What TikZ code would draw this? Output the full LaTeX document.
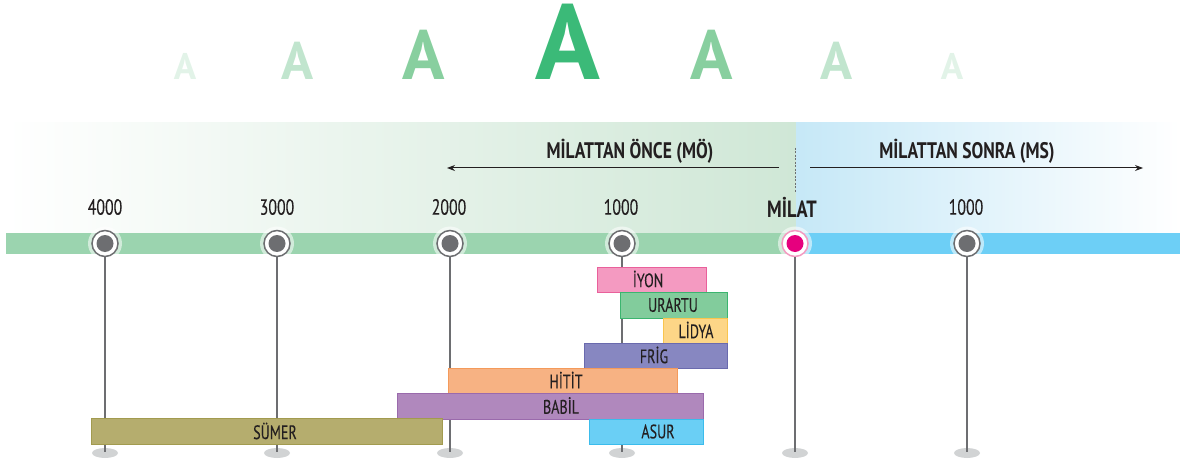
\documentclass[tikz,border=0pt]{standalone}
\usepackage{fontspec}
\setmainfont{PT Sans}[FakeStretch=0.72]
\newfontfamily\rfont{PT Sans}[FakeStretch=0.72,FakeBold=0.15]
\newfontfamily\bfont{PT Sans}[FakeStretch=0.78]
\newfontfamily\wideA{PT Sans}
\usetikzlibrary{arrows.meta}
\definecolor{txt}{HTML}{231F20}
\definecolor{bandG}{HTML}{CFE7D6}
\definecolor{bandB}{HTML}{C6E8F7}
\definecolor{barG}{HTML}{9BD4AF}
\definecolor{barB}{HTML}{6DCFF6}
\definecolor{tickgray}{HTML}{6D6E71}
\definecolor{shadowgray}{HTML}{D1D3D4}
\definecolor{milatPink}{HTML}{E6007E}
\definecolor{milatRing}{HTML}{F49AC1}
\definecolor{aA}{HTML}{3BBA78}
\definecolor{aB}{HTML}{88CF9F}
\definecolor{aC}{HTML}{C1E5CE}
\definecolor{aD}{HTML}{E2F3E8}
\definecolor{iyonF}{HTML}{F49AC1}\definecolor{iyonD}{HTML}{E9609B}
\definecolor{urarF}{HTML}{82CC9C}\definecolor{urarD}{HTML}{3BB56F}
\definecolor{lidF}{HTML}{FDD687}\definecolor{lidD}{HTML}{F9C54E}
\definecolor{frigF}{HTML}{8787C1}\definecolor{frigD}{HTML}{6A6AAE}
\definecolor{hitF}{HTML}{F7B283}\definecolor{hitD}{HTML}{F49A5B}
\definecolor{babF}{HTML}{B088BD}\definecolor{babD}{HTML}{9A6AAC}
\definecolor{sumF}{HTML}{B5AD6E}\definecolor{sumD}{HTML}{A29B4F}
\definecolor{asurF}{HTML}{6ACFF5}\definecolor{asurD}{HTML}{3BBCEC}
\begin{document}
\begin{tikzpicture}[x=1pt,y=-1pt,
  bigA/.style={anchor=base,inner sep=0pt,font=\wideA\bfseries\fontsize{#1}{#1}\selectfont},
  year/.style={text=txt,inner sep=0pt,font=\rfont\fontsize{22}{22}\selectfont},
  head/.style={text=txt,inner sep=0pt,font=\bfont\bfseries\fontsize{22.5}{22.5}\selectfont},
  era/.style={line width=1pt,inner sep=0pt},
  eralabel/.style={text=txt,inner sep=0pt,font=\rfont\fontsize{19.5}{19.5}\selectfont},
  tick/.style={circle,fill=white,draw=tickgray,line width=1.5pt,minimum size=26pt,inner sep=0pt,
    path picture={\fill[tickgray] (path picture bounding box.center) circle (8.5);}},
  milattick/.style={circle,fill=white,draw=milatRing,line width=1.5pt,minimum size=26pt,inner sep=0pt,
    path picture={\fill[milatPink] (path picture bounding box.center) circle (8.5);}},
  stem/.style={draw=tickgray,line width=2pt},
  arr/.style={draw=txt,line width=1pt,-{Stealth[length=8pt,width=6pt]}},
]
\useasboundingbox (0,0) rectangle (1183,465);

% decorative A's
\node[bigA=37,text=aD] (a1) at (185,80) {A};
\node[bigA=53,text=aC] (a2) at (298,80) {A};
\node[bigA=70,text=aB] (a3) at (424,80) {A};
\node[bigA=107,text=aA] (a4) at (568,80) {A};
\node[bigA=70,text=aB] (a5) at (712,80) {A};
\node[bigA=53,text=aC] (a6) at (837,80) {A};
\node[bigA=37,text=aD] (a7) at (952,80) {A};

% background band
\fill[left color=white,right color=bandG] (5,123) rectangle (796,233);
\fill[left color=bandB,right color=white] (796,123) rectangle (1180,233);

% headings and arrows
\node[head] (mo) at (630,151) {MİLATTAN ÖNCE (MÖ)};
\node[head] (ms) at (967,151) {MİLATTAN SONRA (MS)};
\coordinate (moS) at (779,168);
\coordinate (moE) at (447,168);
\coordinate (msS) at (810,168);
\coordinate (msE) at (1143,168);
\draw[arr] (moS) -- (moE);
\draw[arr] (msS) -- (msE);
\coordinate (dA) at (795,148);
\coordinate (dB) at (795,192);
\draw[tickgray,line width=0.6pt,dash pattern=on 2pt off 1.5pt] (dA) -- (dB);

% bar
\fill[barG] (6,233) rectangle (796,254);
\fill[barB] (796,233) rectangle (1180,254);

% year labels
\node[year] (l4000) at (105,207) {4000};
\node[year] (l3000) at (277,207) {3000};
\node[year] (l2000) at (449,207) {2000};
\node[year] (l1000) at (621,207) {1000};
\node[head,font=\bfont\bfseries\fontsize{23.5}{23.5}\selectfont] (lmilat) at (792,207) {MİLAT};
\node[year] (l1000b) at (966,207) {1000};

% shadows
\foreach \n/\x in {s4000/105,s3000/277,s2000/450,s1000/622,smilat/795,s1000b/967}{
  \fill[shadowgray] (\x,453) ellipse (13 and 5);
  \coordinate (\n) at (\x,452);
}
% halos
\foreach \x in {105,277,450,622,795,967}{
  \fill[white,opacity=0.55] (\x,243.5) circle (17);
}
% ticks
\node[tick] (t4000) at (105,243.5) {};
\node[tick] (t3000) at (277,243.5) {};
\node[tick] (t2000) at (450,243.5) {};
\node[tick] (t1000) at (622,243.5) {};
\node[milattick] (tmilat) at (795,243.5) {};
\node[tick] (t1000b) at (967,243.5) {};
% stems
\draw[stem] (t4000.south) -- (s4000);
\draw[stem] (t3000.south) -- (s3000);
\draw[stem] (t2000.south) -- (s2000);
\draw[stem] (t1000.south) -- (s1000);
\draw[stem] (tmilat.south) -- (smilat);
\draw[stem] (t1000b.south) -- (s1000b);

% era boxes
\node[era,fill=iyonF,draw=iyonD,minimum width=109pt,minimum height=25pt] (iyon) at (651.5,279.5) {};
\node[era,fill=urarF,draw=urarD,minimum width=107pt,minimum height=26pt] (urartu) at (673.5,305) {};
\node[era,fill=lidF,draw=lidD,minimum width=64pt,minimum height=25pt] (lidya) at (695,330.5) {};
\node[era,fill=frigF,draw=frigD,minimum width=143pt,minimum height=25pt] (frig) at (655.5,355.5) {};
\node[era,fill=hitF,draw=hitD,minimum width=229pt,minimum height=25pt] (hitit) at (562.5,380.5) {};
\node[era,fill=babF,draw=babD,minimum width=306pt,minimum height=26pt] (babil) at (550,406) {};
\node[era,fill=sumF,draw=sumD,minimum width=351pt,minimum height=26pt] (sumer) at (266.5,431) {};
\node[era,fill=asurF,draw=asurD,minimum width=114pt,minimum height=25pt] (asur) at (646,431.5) {};

\node[eralabel] (iyonT) at (648,279) {İYON};
\node[eralabel] (urartuT) at (673,305) {URARTU};
\node[eralabel] (lidyaT) at (696,330) {LİDYA};
\node[eralabel] (frigT) at (654,355) {FRİG};
\node[eralabel] (hititT) at (566,380) {HİTİT};
\node[eralabel] (babilT) at (561,405.5) {BABİL};
\node[eralabel] (sumerT) at (275,431) {SÜMER};
\node[eralabel] (asurT) at (658,431.5) {ASUR};
\end{tikzpicture}
\end{document}
